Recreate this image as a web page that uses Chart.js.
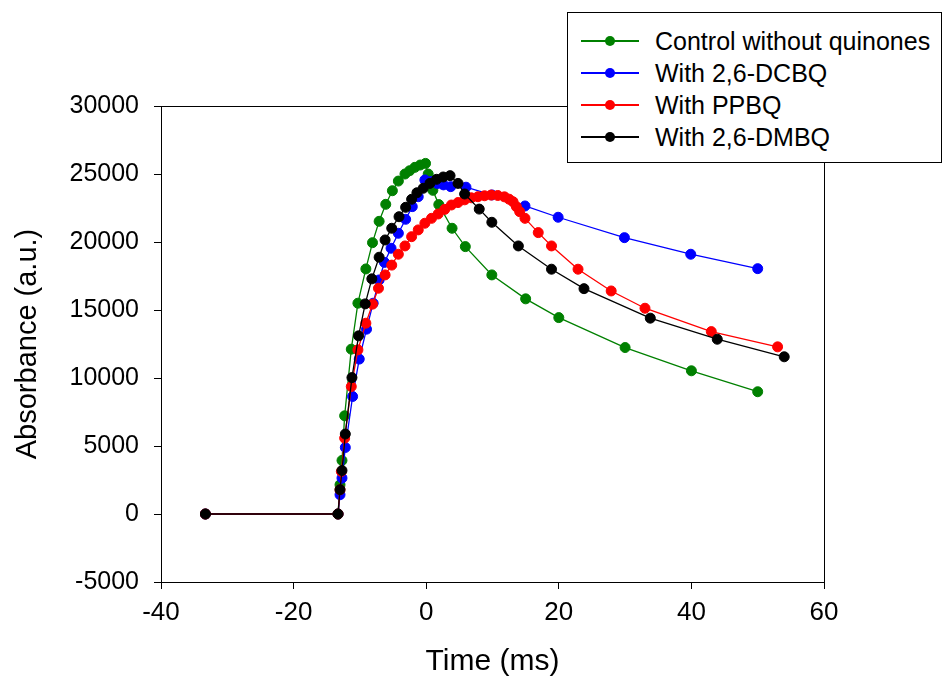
<!DOCTYPE html>
<html>
<head>
<meta charset="utf-8">
<script src="https://cdn.jsdelivr.net/npm/chart.js@4.4.1/dist/chart.umd.min.js"></script>
<style>
  html, body { margin: 0; padding: 0; background: #fff; }
  #wrap { position: relative; width: 944px; height: 681px; }
  #c { position: absolute; left: 0; top: 0; }
  #legend { position: absolute; left: 567px; top: 12px; width: 375px; height: 151px; border: 1px solid #000; background: #fff; box-sizing: border-box; font-family: "Liberation Sans", Arial, sans-serif; font-size: 25px; color: #000; }
  .row { position: absolute; left: 0; height: 32px; width: 100%; }
  .ln { position: absolute; left: 13px; width: 58px; top: 15px; height: 1.5px; }
  .dot { position: absolute; left: 37px; top: 11px; width: 10px; height: 10px; border-radius: 50%; }
  .tx { position: absolute; left: 87px; top: 0; line-height: 32px; white-space: nowrap; }
</style>
</head>
<body>
<div id="wrap">
<canvas id="c" width="944" height="681"></canvas>
<div id="legend"></div>
</div>
<script>
// ---- data ----
const seriesNames = ["Control without quinones", "With 2,6-DCBQ", "With PPBQ", "With 2,6-DMBQ"];
const seriesColors = ["#008000", "#0000ff", "#ff0000", "#000000"];

const controlX = [-33.3, -13.3, -13.0, -12.7, -12.3, -11.3, -10.3, -9.1, -8.1, -7.1, -6.1, -5.1, -4.2, -3.2, -2.5, -1.7, -0.9, -0.1, 0.3, 1.0, 1.9, 3.9, 5.9, 9.9, 15.0, 20.0, 30.0, 40.0, 50.0];
const controlY = [0, 0, 2150, 3940, 7220, 12120, 15500, 18020, 19950, 21520, 22770, 23770, 24480, 25000, 25240, 25490, 25660, 25780, 25000, 23800, 22750, 21010, 19660, 17580, 15820, 14440, 12240, 10530, 8990];

const dcbqX = [-33.3, -13.3, -13.0, -12.7, -12.2, -11.1, -10.1, -9.0, -8.0, -7.1, -6.3, -5.3, -4.2, -3.1, -2.1, -1.2, -0.2, 0.8, 1.7, 2.6, 3.7, 6.0, 9.9, 14.9, 19.9, 29.9, 39.9, 50.0];
const dcbqY = [0, 0, 1420, 2640, 4890, 8640, 11390, 13590, 15500, 17210, 18500, 19540, 20640, 21670, 22600, 23330, 24560, 24450, 24300, 24200, 24070, 24030, 23460, 22650, 21820, 20320, 19100, 18040];

const ppbqX = [-33.3, -13.3, -13.0, -12.8, -12.3, -11.3, -10.3, -9.1, -8.1, -7.2, -6.2, -5.2, -4.2, -3.2, -2.2, -1.2, -0.2, 0.8, 1.8, 2.8, 3.8, 4.8, 5.8, 6.8, 7.8, 8.8, 9.8, 10.8, 11.8, 12.5, 13.1, 13.6, 14.1, 14.9, 16.9, 18.9, 22.9, 27.9, 33.0, 43.0, 53.0];
const ppbqY = [0, 0, 1790, 3130, 5580, 9370, 12070, 14030, 15430, 16600, 17580, 18300, 19100, 19710, 20390, 20890, 21380, 21740, 22060, 22400, 22720, 22900, 23100, 23250, 23330, 23400, 23450, 23420, 23320, 23150, 22960, 22600, 22230, 21740, 20690, 19710, 18000, 16400, 15130, 13410, 12290];

const dmbqX = [-33.3, -13.3, -13.0, -12.7, -12.2, -11.2, -10.2, -9.2, -8.2, -7.1, -6.2, -5.2, -4.1, -3.1, -2.2, -1.4, -0.45, 0.56, 1.57, 2.57, 3.6, 4.8, 5.8, 8.0, 9.9, 13.9, 18.9, 23.8, 33.8, 43.9, 54.0];
const dmbqY = [0, 0, 1790, 3200, 5880, 10030, 13100, 15450, 17290, 18880, 20150, 21010, 21860, 22550, 23140, 23620, 23950, 24310, 24610, 24780, 24880, 24310, 23530, 22420, 21450, 19710, 18000, 16570, 14400, 12850, 11560];

const xTickValues = [-40, -20, 0, 20, 40, 60];
const yTickValues = [-5000, 0, 5000, 10000, 15000, 20000, 25000, 30000];

const xs = [controlX, dcbqX, ppbqX, dmbqX];
const ys = [controlY, dcbqY, ppbqY, dmbqY];

// ---- legend (HTML) ----
const leg = document.getElementById('legend');
seriesNames.forEach((name, i) => {
  const r = document.createElement('div');
  r.className = 'row';
  r.style.top = (12 + i * 32) + 'px';
  r.innerHTML = '<div class="ln" style="background:' + seriesColors[i] + '"></div>' +
                '<div class="dot" style="background:' + seriesColors[i] + '"></div>' +
                '<div class="tx">' + name + '</div>';
  leg.appendChild(r);
});

// ---- chart ----
const FONT = "'Liberation Sans', Arial, sans-serif";
const datasets = seriesNames.map((name, i) => ({
  label: name,
  data: xs[i].map((x, k) => ({ x: x, y: ys[i][k] })),
  borderColor: seriesColors[i],
  backgroundColor: seriesColors[i],
  pointBackgroundColor: seriesColors[i],
  pointBorderColor: seriesColors[i],
  borderWidth: 1.3,
  pointRadius: 5,
  pointBorderWidth: 1,
  tension: 0,
  order: 3 - i
}));

const framePlugin = {
  id: 'frame',
  afterDraw(chart) {
    const { ctx, chartArea: a } = chart;
    ctx.save();
    ctx.strokeStyle = '#000';
    ctx.lineWidth = 1;
    ctx.beginPath();
    const l = Math.round(a.left) + 0.5, r = Math.round(a.right) + 0.5;
    const t = Math.round(a.top) + 0.5, b = Math.round(a.bottom) + 0.5;
    ctx.moveTo(l, t); ctx.lineTo(r, t); ctx.lineTo(r, b);
    ctx.stroke();
    ctx.restore();
  }
};

new Chart(document.getElementById('c'), {
  type: 'line',
  data: { datasets },
  plugins: [framePlugin],
  options: {
    responsive: false,
    animation: false,
    layout: { padding: { left: 0, right: 120, top: 106, bottom: 0 } },
    plugins: { legend: { display: false }, tooltip: { enabled: false } },
    scales: {
      x: {
        type: 'linear', min: -40, max: 60,
        afterBuildTicks: s => { s.ticks = xTickValues.map(v => ({ value: v })); },
        afterFit: s => { s.height = 99; },
        grid: { drawOnChartArea: false, tickLength: 7, color: '#000', lineWidth: 1 },
        border: { color: '#000', width: 1 },
        ticks: { color: '#000', font: { family: FONT, size: 26 }, padding: 8, maxRotation: 0, autoSkip: false, callback: v => String(v) },
        title: { display: true, text: 'Time (ms)', color: '#000', font: { family: FONT, size: 30 }, padding: { top: 0, bottom: 1 } }
      },
      y: {
        type: 'linear', min: -5000, max: 30000,
        afterBuildTicks: s => { s.ticks = yTickValues.map(v => ({ value: v })); },
        afterFit: s => { s.width = 161; },
        grid: { drawOnChartArea: false, tickLength: 7, color: '#000', lineWidth: 1 },
        border: { color: '#000', width: 1 },
        ticks: { color: '#000', font: { family: FONT, size: 25 }, padding: 15, autoSkip: false, callback: v => String(v) },
        title: { display: true, text: 'Absorbance (a.u.)', color: '#000', font: { family: FONT, size: 29 }, padding: { top: 11, bottom: 0 } }
      }
    }
  }
});
</script>
</body>
</html>
